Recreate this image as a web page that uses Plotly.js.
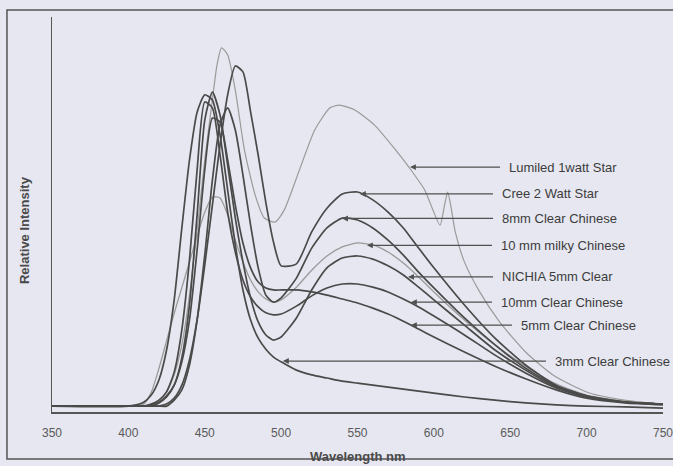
<!DOCTYPE html>
<html><head><meta charset="utf-8">
<script src="https://cdn.plot.ly/plotly-3.0.1.min.js"></script>
<style>html,body{margin:0;padding:0;background:#e6e7f0;} #chart{width:673px;height:466px;}</style>
</head><body><div id="chart"></div>
<script>
// Wavelength grid (nm) shared by most series
const wavelengths = [350,400,410,415,420,425,430,435,440,445,450,455,460,465,470,475,480,485,490,495,500,510,520,530,540,550,560,570,580,590,600,620,640,660,680,700,725,750];

// Relative intensity (0-100)
const cree2WattStar = [1.5,1.5,1.5,1.5,1.5,2.0,3.5,6.8,13.2,23.3,37.2,52.4,67.6,80.3,87.6,86.1,76.0,65.0,53.0,43.0,37.0,37.5,45.6,51.6,55.2,55.7,53.7,50.6,46.6,41.5,36.5,27.1,18.7,11.9,6.8,4.1,2.5,2.0];
const clear8mmChinese = [1.5,1.5,1.5,1.5,1.5,1.5,3.0,5.6,11.9,23.3,39.7,58.7,72.7,77.0,71.4,60.0,47.3,36.5,29.6,27.8,28.9,33.9,41.5,46.6,49.1,48.6,46.6,43.5,39.7,35.4,31.4,23.8,17.0,11.1,6.6,4.1,2.5,2.0];
const milky10mmChinese = [1.5,1.5,2.0,5.0,11.0,18.0,25.0,31.5,38.0,44.5,50.6,54.4,54.2,49.9,43.5,38.0,33.4,30.4,28.6,27.8,28.4,31.6,35.9,39.5,41.8,42.8,42.3,40.5,37.7,34.2,30.4,23.3,17.0,11.6,7.1,4.3,2.8,2.0];
const nichia5mmClear = [1.5,1.5,1.5,1.5,2.3,3.8,6.8,13.7,27.1,49.9,73.9,81.0,75.2,62.5,49.1,38.0,28.9,22.8,19.5,18.2,19.0,23.8,30.9,36.5,39.0,39.5,38.7,37.0,34.7,31.6,28.4,22.0,15.7,10.6,6.3,3.8,2.5,2.0];
const clear10mmChinese = [1.5,1.5,1.5,2.0,3.0,5.1,10.1,20.8,38.5,61.3,78.5,77.0,65.1,50.6,40.5,33.4,29.1,26.6,25.1,24.6,24.8,26.8,29.4,31.4,32.4,32.4,31.6,30.4,28.6,26.6,24.3,19.5,14.4,9.9,6.1,3.8,2.5,2.0];
const clear5mmChinese = [1.5,1.5,1.5,1.8,2.5,4.1,6.8,12.7,23.3,41.0,61.3,74.4,73.4,63.8,52.4,42.8,36.5,32.9,31.4,30.9,30.9,30.9,30.4,29.6,28.6,27.6,26.3,24.8,23.0,21.0,19.0,15.2,11.6,8.4,5.6,3.5,2.3,1.8];
const clear3mmChinese = [1.5,1.5,2.5,4.3,8.1,15.7,28.4,46.6,63.8,75.9,80.3,79.0,70.1,56.2,42.3,30.9,23.3,18.7,15.9,13.9,12.7,10.6,9.4,8.6,7.8,7.3,6.8,6.3,5.8,5.3,4.8,3.8,3.0,2.3,1.8,1.5,1.3,1.0];

// Lumiled has its own, denser grid (narrow spike near 610 nm)
const lumiledWavelengths = [350,410,414,420,425,430,435,440,445,450,455,458,461,465,470,476,483,489,496,502,512,522,532,538,548,561,574,584,594,604,607,609,611,614,620,630,643,660,679,702,728,750];
const lumiled1wattStar = [1.5,1.5,1.8,3.0,5.1,9.4,17.0,29.6,46.1,63.8,79.0,87.8,92.2,90.4,81.5,66.3,54.9,49.1,48.1,51.1,61.3,71.4,77.0,77.7,76.5,72.7,66.8,61.8,56.2,47.3,52.4,55.7,52.4,45.6,38.0,30.4,22.8,15.2,9.1,4.8,2.8,2.0];

const xTickValues = [350,400,450,500,550,600,650,700,750];
const xTickLabels = ['350','400','450','500','550','600','650','700','750'];

const seriesNames = ['Lumiled 1watt Star','Cree 2 Watt Star','8mm Clear Chinese','10 mm milky Chinese','NICHIA 5mm Clear','10mm Clear Chinese','5mm Clear Chinese','3mm Clear Chinese'];

const dark = '#4a4a4a', light = '#9a9a9a';
function tr(x, y, name, color, width){
  return {x:x, y:y, name:name, type:'scatter', mode:'lines', hoverinfo:'skip',
    line:{color:color, width:width, shape:'spline', smoothing:0.6}, showlegend:false};
}
const traces = [
  tr(lumiledWavelengths, lumiled1wattStar, seriesNames[0], light, 1.2),
  tr(wavelengths, milky10mmChinese, seriesNames[3], light, 1.3),
  tr(wavelengths, cree2WattStar, seriesNames[1], dark, 1.7),
  tr(wavelengths, clear8mmChinese, seriesNames[2], dark, 1.7),
  tr(wavelengths, nichia5mmClear, seriesNames[4], dark, 1.7),
  tr(wavelengths, clear10mmChinese, seriesNames[5], dark, 1.7),
  tr(wavelengths, clear5mmChinese, seriesNames[6], dark, 1.7),
  tr(wavelengths, clear3mmChinese, seriesNames[7], dark, 1.7)
];

const font = 'Liberation Sans, Arial, sans-serif';
function label(text, x, y, ax){
  return {text:text, x:x, y:y, xref:'x', yref:'y', showarrow:true, ax:ax, ay:0,
    axref:'pixel', ayref:'pixel', xanchor:'left', yanchor:'middle', borderpad:9, borderwidth:0,
    arrowhead:2, arrowsize:0.9, arrowwidth:1.3, arrowcolor:'#505050',
    font:{family:font, size:13, color:'#3c3c3c'}};
}
const annotations = [
  label(seriesNames[0], 584.4, 62.0, 90),
  label(seriesNames[1], 551.6, 55.2, 133),
  label(seriesNames[2], 539.9, 49.0, 151),
  label(seriesNames[3], 556.2, 42.2, 125),
  label(seriesNames[4], 583.1, 34.2, 85),
  label(seriesNames[5], 585.0, 27.8, 81),
  label(seriesNames[6], 585.0, 22.0, 101),
  label(seriesNames[7], 501.2, 12.9, 263),
  {text:'Relative Intensity', xref:'paper', yref:'paper', x:-0.044, y:0.461, showarrow:false,
   xanchor:'center', yanchor:'middle',
   textangle:-90, font:{family:font, size:13, color:'#4a4a4a', weight:'bold'}},
  {text:'Wavelength nm', xref:'paper', yref:'paper', x:0.5008, y:-0.112, showarrow:false,
   xanchor:'center', yanchor:'middle', font:{family:font, size:13, color:'#4a4a4a', weight:'bold'}}
];

const layout = {
  width:673, height:466,
  margin:{l:52, r:10, t:17, b:54},
  paper_bgcolor:'#e6e7f0', plot_bgcolor:'#e6e7f0',
  xaxis:{range:[350,750], tickvals:xTickValues, ticktext:xTickLabels, showgrid:false, zeroline:false,
    showline:true, linecolor:'#555', linewidth:1.5, ticks:'outside', ticklen:9, tickcolor:'rgba(0,0,0,0)',
    ticklabeloverflow:'allow',
    tickfont:{family:font, size:12, color:'#5a5a5a'}},
  yaxis:{range:[0,100], showgrid:false, zeroline:false, showticklabels:false, ticks:'',
    showline:true, linecolor:'#555', linewidth:1.5},
  shapes:[
    {type:'rect', xref:'paper', yref:'paper', x0:-0.0737, x1:1.2, y0:-0.119, y1:1.0177,
     line:{color:'#555', width:1.5}, fillcolor:'rgba(0,0,0,0)'}
  ],
  annotations:annotations
};
Plotly.newPlot('chart', traces, layout, {displayModeBar:false, staticPlot:true});
</script>
</body></html>
